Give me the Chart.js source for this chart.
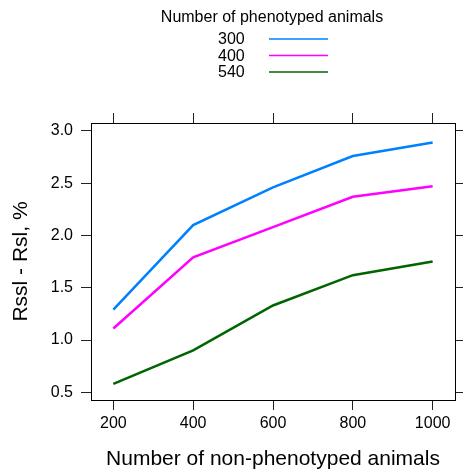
<!DOCTYPE html>
<html>
<head>
<meta charset="utf-8">
<script src="https://cdn.jsdelivr.net/npm/chart.js@4/dist/chart.umd.min.js"></script>
<style>
  html, body { margin: 0; padding: 0; background: #ffffff; }
  #wrap { width: 463px; height: 472px; position: relative; }
</style>
</head>
<body>
<div id="wrap"><canvas id="c" width="463" height="472"></canvas></div>
<script>
// ---- data ----
const xValues = [200, 400, 600, 800, 1000];
const series300 = [1.29, 2.10, 2.46, 2.76, 2.89];
const series400 = [1.11, 1.79, 2.08, 2.37, 2.47];
const series540 = [0.58, 0.90, 1.33, 1.62, 1.75];
const seriesLabels = ['300', '400', '540'];
const seriesColors = ['#0080FF', '#FF00FF', '#006400'];
const xTicks = [200, 400, 600, 800, 1000];
const yTicks = [0.5, 1.0, 1.5, 2.0, 2.5, 3.0];
const legendTitle = 'Number of phenotyped animals';
const xTitle = 'Number of non-phenotyped animals';
const yTitle = 'Rssl - Rsl, %';

const FONT = "'Liberation Sans', Arial, Helvetica, sans-serif";
const allSeries = [series300, series400, series540];

const datasets = allSeries.map((s, i) => ({
  label: seriesLabels[i],
  data: xValues.map((x, j) => ({ x: x, y: s[j] })),
  borderColor: seriesColors[i],
  backgroundColor: seriesColors[i],
  borderWidth: 2.5,
  pointRadius: 0,
  tension: 0,
  fill: false
}));

const X_MIN = 144, X_MAX = 1056, Y_MIN = 0.426, Y_MAX = 3.076;

function fixTicks(list) {
  return function (scale) { scale.ticks = list.map(v => ({ value: v })); };
}

const tickGrid = { drawOnChartArea: false, drawTicks: true, tickLength: 10, color: '#222', lineWidth: 1 };
const border = { display: true, color: '#000', width: 1 };

const legendPlugin = {
  id: 'latticeLegend',
  afterDraw(chart) {
    const ctx = chart.ctx;
    ctx.save();
    ctx.fillStyle = '#000';
    ctx.font = '16px ' + FONT;
    ctx.textAlign = 'center';
    ctx.textBaseline = 'middle';
    ctx.fillText(legendTitle, 272, 18);
    const rowsY = [40, 56.5, 73];
    chart.data.datasets.forEach((ds, i) => {
      ctx.fillStyle = '#000';
      ctx.textAlign = 'left';
      ctx.fillText(ds.label, 218, rowsY[i]);
      ctx.strokeStyle = ds.borderColor;
      ctx.lineWidth = 1.6;
      ctx.beginPath();
      ctx.moveTo(269, rowsY[i] - 1);
      ctx.lineTo(328, rowsY[i] - 1);
      ctx.stroke();
    });
    ctx.restore();
  }
};

new Chart(document.getElementById('c'), {
  type: 'line',
  data: { datasets: datasets },
  plugins: [legendPlugin],
  options: {
    responsive: false,
    animation: false,
    layout: { padding: { top: 113, left: 0, right: 0, bottom: 0 } },
    plugins: { legend: { display: false }, tooltip: { enabled: false } },
    scales: {
      x: {
        type: 'linear', position: 'bottom', min: X_MIN, max: X_MAX,
        afterBuildTicks: fixTicks(xTicks),
        afterFit(scale) { scale.height = 72; },
        ticks: { font: { size: 16, family: FONT }, color: '#000', padding: 4, maxRotation: 0,
                 callback: v => String(v) },
        grid: tickGrid, border: border,
        title: { display: true, text: xTitle, color: '#000', font: { size: 21, family: FONT }, padding: { top: 0, bottom: 0 } }
      },
      x2: {
        type: 'linear', position: 'top', min: X_MIN, max: X_MAX,
        afterBuildTicks: fixTicks(xTicks),
        afterFit(scale) { scale.height = 10; },
        ticks: { display: false },
        grid: tickGrid, border: border
      },
      y: {
        type: 'linear', position: 'left', min: Y_MIN, max: Y_MAX,
        afterBuildTicks: fixTicks(yTicks),
        afterFit(scale) { scale.width = 91; },
        ticks: { font: { size: 16, family: FONT }, color: '#000', padding: 8,
                 callback: v => v.toFixed(1) },
        grid: tickGrid, border: border,
        title: { display: true, text: yTitle, color: '#000', font: { size: 21, family: FONT }, padding: { top: 9, bottom: 0 } }
      },
      y2: {
        type: 'linear', position: 'right', min: Y_MIN, max: Y_MAX,
        afterBuildTicks: fixTicks(yTicks),
        afterFit(scale) { scale.width = 8; },
        ticks: { display: false },
        grid: tickGrid, border: border
      }
    }
  }
});
</script>
</body>
</html>
